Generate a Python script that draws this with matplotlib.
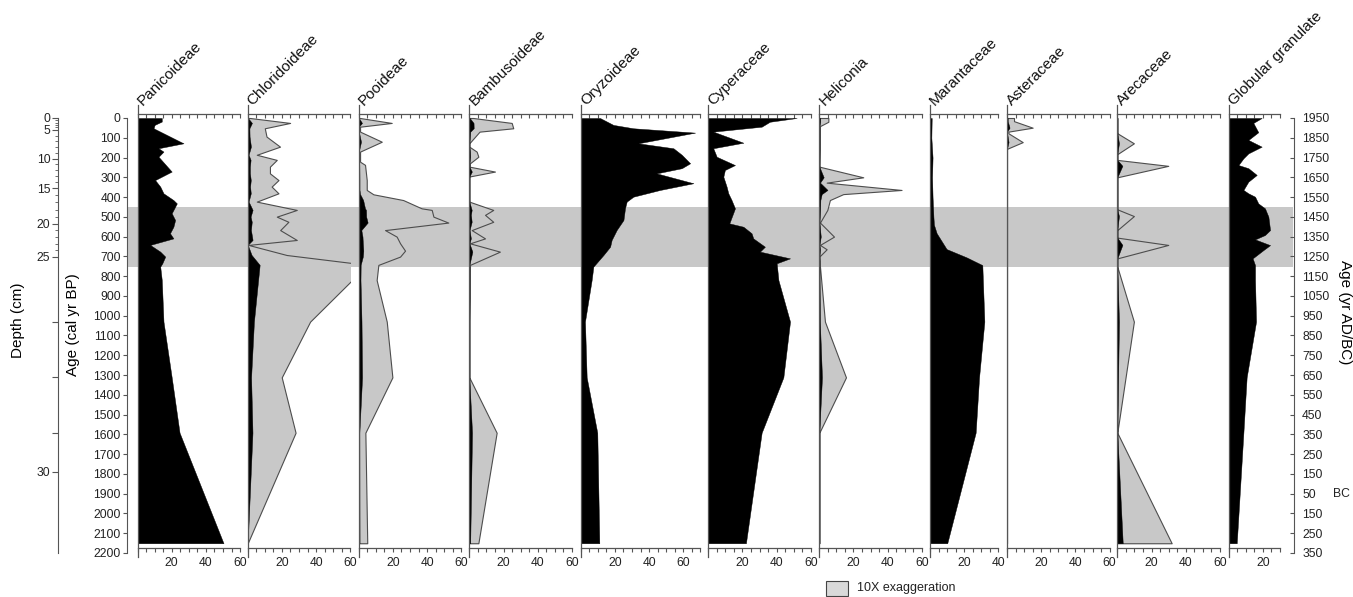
import numpy as np
import matplotlib
matplotlib.use("Agg")
import matplotlib.pyplot as plt
from matplotlib.patches import Rectangle
from matplotlib.lines import Line2D
from matplotlib.transforms import offset_copy

plt.rcParams['font.family'] = ['Liberation Sans', 'DejaVu Sans']

# ---------------- data ----------------
taxa = ["Panicoideae", "Chloridoideae", "Pooideae", "Bambusoideae", "Oryzoideae",
        "Cyperaceae", "Heliconia", "Marantaceae", "Asteraceae", "Arecaceae",
        "Globular granulate"]
x_max = [60, 60, 60, 60, 70, 60, 60, 40, 60, 60, 30]
exaggerated = ["Chloridoideae", "Pooideae", "Bambusoideae", "Heliconia", "Asteraceae", "Arecaceae"]

panic_age = [0, 18, 35, 52, 128, 153, 170, 196, 271, 314, 347, 381, 415, 432, 482, 516, 550, 583,
             609, 642, 676, 701, 735, 752, 820, 1030, 1312, 1592, 2151]
panic_pct = [14.2, 14.2, 10, 9.4, 26.9, 12.3, 15.2, 12.3, 20, 10.3, 13.3, 15.2, 21, 23, 20, 22, 21, 19,
             21, 7.4, 13.3, 16.2, 14.5, 13.3, 14.2, 15.2, 20, 24.6, 50.3]

chlor_age = [0, 25, 52, 94, 145, 186, 212, 246, 280, 314, 347, 381, 423, 465, 499, 525, 567, 617,
             642, 693, 743, 1030, 1312, 1592, 2151]
chlor_pct = [0.14, 2.48, 1.0, 1.1, 1.89, 0.53, 1.7, 1.3, 1.3, 1.8, 1.4, 1.8, 0.53, 2.87, 1.7, 2.38,
             1.9, 2.87, 0.04, 2.28, 7.0, 3.65, 1.99, 2.8, 0.0]

pooid_age = [0, 25, 44, 69, 120, 170, 221, 237, 314, 364, 386, 415, 457, 465, 499, 529, 567, 600,
             634, 671, 701, 743, 820, 1030, 1312, 1592, 2151]
pooid_pct = [0.08, 1.93, 0.08, 0.08, 1.35, 0.08, 0.08, 0.37, 0.47, 0.47, 0.86, 2.6, 3.68, 4.27, 4.37,
             5.24, 1.54, 2.22, 2.42, 2.71, 2.42, 1.15, 1.05, 1.64, 1.97, 0.39, 0.5]

bambu_age = [0, 25, 52, 69, 128, 145, 170, 196, 229, 246, 271, 296, 423, 465, 490, 525, 567, 609,
             634, 676, 743, 1030, 1312, 1592, 2151]
bambu_pct = [0.23, 2.48, 2.57, 0.6, 0, 0, 0.43, 0.53, 0.04, 0, 1.5, 0, 0, 1.4, 0.92, 1.4, 0.14, 0.92,
             0.04, 1.79, 0.04, 0, 0, 1.6, 0.53]

oryz_age = [0, 35, 52, 74, 128, 153, 186, 229, 254, 280, 330, 364, 398, 423, 457, 516, 567, 617,
            651, 693, 752, 820, 1030, 1312, 1592, 2151]
oryz_pct = [11.3, 19.1, 30.8, 66.9, 33.7, 54.2, 59.1, 64, 59.1, 44.4, 65.9, 46.4, 30.8, 26.9, 25.9,
            25, 21, 18.1, 17.2, 13.3, 7.4, 6.4, 2.5, 3.5, 9.7, 10.9]

cyper_age = [0, 19, 44, 69, 125, 153, 196, 238, 263, 297, 347, 381, 415, 457, 533, 550, 583, 609,
             651, 676, 710, 735, 820, 1030, 1312, 1592, 2151]
cyper_pct = [51.7, 36, 31.2, 2.9, 20.5, 2.9, 4.9, 15.6, 9.7, 8.8, 10.7, 11.7, 13.6, 15.6, 12.3, 20.5,
             25.3, 26.3, 33.1, 30.2, 47.8, 40, 41, 47.8, 43.9, 31.2, 22]

helic_age = [0, 19, 41, 246, 300, 327, 364, 385, 415, 465, 529, 600, 642, 664, 701, 752, 1030, 1312,
             1592, 2151]
helic_pct = [0.53, 0.53, 0.04, 0, 2.57, 0.43, 4.81, 1.4, 0.62, 0.47, 0.04, 0.86, 0.04, 0.43, 0, 0.04,
             0.33, 1.56, 0, 0]

maran_age = [0, 100, 200, 300, 400, 500, 540, 583, 663, 705, 744, 1030, 1312, 1592, 2151]
maran_pct = [1.0, 0.8, 1.5, 1.2, 1.5, 2.0, 2.3, 3.9, 9.7, 21.4, 30.6, 31.8, 28.7, 26.7, 10.1]

aster_age = [0, 16, 49, 69, 77, 122, 156, 2151]
aster_pct = [0.41, 0.41, 1.5, 0.08, 0.08, 0.92, 0, 0]

areca_age = [0, 77, 128, 183, 212, 242, 300, 462, 496, 567, 605, 642, 710, 752, 1030, 1592, 2151]
areca_pct = [0, 0, 0.97, 0, 0, 2.98, 0, 0, 0.97, 0, 0, 2.98, 0, 0, 0.97, 0, 3.18]

globu_age = [0, 25, 72, 111, 145, 179, 204, 238, 254, 288, 322, 364, 381, 398, 432, 457, 499, 567,
             592, 614, 643, 668, 710, 744, 820, 1030, 1312, 1592, 2151]
globu_pct = [19.3, 14.4, 17.3, 11.5, 19.3, 11.5, 8.6, 5.7, 11.5, 16.4, 11.5, 8.6, 11.5, 15.4, 17.3,
             21.2, 23.2, 24.2, 21.2, 15.4, 24.2, 20.3, 14, 15.4, 15.4, 16, 10.5, 8.6, 4.7]

series = {
    "Panicoideae": (panic_age, panic_pct), "Chloridoideae": (chlor_age, chlor_pct),
    "Pooideae": (pooid_age, pooid_pct), "Bambusoideae": (bambu_age, bambu_pct),
    "Oryzoideae": (oryz_age, oryz_pct), "Cyperaceae": (cyper_age, cyper_pct),
    "Heliconia": (helic_age, helic_pct), "Marantaceae": (maran_age, maran_pct),
    "Asteraceae": (aster_age, aster_pct), "Arecaceae": (areca_age, areca_pct),
    "Globular granulate": (globu_age, globu_pct),
}

band_ages = [450, 752]          # shaded zone (cal yr BP)
age_ticks = list(range(0, 2201, 100))
ad_labels = ["1950", "1850", "1750", "1650", "1550", "1450", "1350", "1250", "1150", "1050",
             "950", "850", "750", "650", "550", "450", "350", "250", "150", "50", "150", "250", "350"]
depth_major = [0, 5, 10, 15, 20, 25, 30]
depth_major_age = [0, 60, 205, 355, 535, 703, 1790]
depth_extra_age = [1030, 1312, 1592]      # unlabeled ticks (26-28 cm)

# ---------------- layout ----------------
W, H = 1353, 597
Y0 = 118.0          # pixel row of age 0
PPY = 0.1977        # pixels per year
PPP = 1.71          # pixels per percent
panel_left = [137.5, 247.7, 358.7, 469.3, 580.7, 708.3, 819.3, 930.0, 1007.0, 1117.3, 1228.7]
AX_TOP_PX, AX_BOT_PX = 114.0, 547.7
EXAG = 10
GREY = "#c8c8c8"
LINE = "#555555"
FS_TICK = 8.7


def ypx(age):
    return Y0 + age * PPY


def age_of(px):
    return (px - Y0) / PPY


fig = plt.figure(figsize=(W / 100, H / 100), dpi=100)

# shaded band behind everything
bx0, bx1 = 127.0, 1292.5
fig.add_artist(Rectangle((bx0 / W, 1 - ypx(band_ages[1]) / H), (bx1 - bx0) / W,
                         (ypx(band_ages[1]) - ypx(band_ages[0])) / H,
                         transform=fig.transFigure, facecolor=GREY, edgecolor="none", zorder=-5))

a_top, a_bot = age_of(AX_TOP_PX), age_of(AX_BOT_PX)
for name, left, xm in zip(taxa, panel_left, x_max):
    wpx = xm * PPP
    ax = fig.add_axes([left / W, 1 - AX_BOT_PX / H, wpx / W, (AX_BOT_PX - AX_TOP_PX) / H])
    ax.set_facecolor("none")
    ax.set_xlim(0, xm)
    ax.set_ylim(a_bot, a_top)
    ages, pct = series[name]
    ages = np.asarray(ages, float)
    pct = np.asarray(pct, float)
    if name in exaggerated:
        ax.fill_betweenx(ages, 0, pct * EXAG, facecolor=GREY, edgecolor="#4d4d4d",
                         linewidth=0.8, zorder=2)
    ax.fill_betweenx(ages, 0, pct, facecolor="black", edgecolor="black", linewidth=0.3, zorder=3)
    for s in ["left", "right", "top"]:
        ax.spines[s].set_visible(False)
    ax.spines["bottom"].set_color(LINE)
    ax.spines["bottom"].set_linewidth(0.9)
    ticks = list(range(0, xm + 1, 5))
    ax.set_xticks(ticks)
    ax.set_xticklabels([str(t) if t in (20, 40, 60) else "" for t in ticks])
    ax.tick_params(axis="x", direction="out", length=3, width=0.8, color=LINE,
                   labelsize=FS_TICK, labelcolor="#222222", pad=4)
    ax.set_yticks([])
    sec = ax.secondary_xaxis("top")
    sec.set_xticks(ticks)
    sec.set_xticklabels([])
    sec.tick_params(direction="in", length=3, width=0.8, color=LINE)
    sec.spines["top"].set_color(LINE)
    sec.spines["top"].set_linewidth(0.9)
    # extended left line
    ax.add_line(Line2D([0, 0], [age_of(105), age_of(557)], color=LINE, lw=0.9,
                       clip_on=False, zorder=5))
    tr = offset_copy(ax.transData, fig=fig, x=5, y=0, units="dots")
    ax.text(0, age_of(106), name, rotation=45, rotation_mode="anchor", ha="left",
            va="baseline", fontsize=11, color="#111111", clip_on=False, transform=tr)

# left age axis
axL = fig.add_axes([127.0 / W, 1 - ypx(2200) / H, 0.001, (ypx(2200) - ypx(0)) / H])
axL.set_facecolor("none")
axL.set_ylim(2200, 0)
for s in ["right", "top", "bottom"]:
    axL.spines[s].set_visible(False)
axL.spines["left"].set_color(LINE)
axL.set_xticks([])
axL.set_yticks(age_ticks)
axL.set_yticklabels([str(t) for t in age_ticks])
axL.tick_params(axis="y", length=3, width=0.8, color=LINE, labelsize=FS_TICK, labelcolor="#222222", pad=1.5)
fig.text(73 / W, 1 - 325 / H, "Age (cal yr BP)", rotation=90, ha="center", va="center", fontsize=11)

# depth axis
axD = fig.add_axes([58.0 / W, 1 - ypx(2200) / H, 0.001, (ypx(2200) - ypx(0)) / H])
axD.set_facecolor("none")
axD.set_ylim(2200, 0)
for s in ["right", "top", "bottom"]:
    axD.spines[s].set_visible(False)
axD.spines["left"].set_color(LINE)
axD.set_xticks([])
axD.set_yticks(depth_major_age + depth_extra_age)
axD.set_yticklabels([str(d) for d in depth_major] + [""] * len(depth_extra_age))
minor = np.interp(np.arange(1, 25), depth_major[:6], depth_major_age[:6])
axD.set_yticks(minor, minor=True)
axD.tick_params(axis="y", which="major", length=4, width=0.8, color=LINE, labelsize=FS_TICK,
                labelcolor="#222222", pad=1.5)
axD.tick_params(axis="y", which="minor", length=2.5, width=0.6, color=LINE)
fig.text(18 / W, 1 - 320 / H, "Depth (cm)", rotation=90, ha="center", va="center", fontsize=11)

# right AD/BC axis
axR = fig.add_axes([1292.5 / W, 1 - ypx(2200) / H, 0.001, (ypx(2200) - ypx(0)) / H])
axR.set_facecolor("none")
axR.set_ylim(2200, 0)
for s in ["left", "top", "bottom"]:
    axR.spines[s].set_visible(False)
axR.spines["right"].set_color(LINE)
axR.set_xticks([])
axR.yaxis.tick_right()
axR.set_yticks(age_ticks[:len(ad_labels)])
axR.set_yticklabels(ad_labels)
axR.tick_params(axis="y", direction="in", length=3, width=0.8, color=LINE, labelsize=FS_TICK,
                labelcolor="#222222", pad=6)
fig.text(1333 / W, 1 - ypx(1900) / H, "BC", ha="left", va="center", fontsize=FS_TICK, color="#222222")
fig.text(1345 / W, 1 - 312 / H, "Age (yr AD/BC)", rotation=270, ha="center", va="center", fontsize=11)

# legend
fig.add_artist(Rectangle((826 / W, 1 - 596 / H), 22 / W, 15 / H, transform=fig.transFigure,
                         facecolor="#d9d9d9", edgecolor="#444444", lw=0.8))
fig.text(857 / W, 1 - 588.5 / H, "10X exaggeration", ha="left", va="center", fontsize=9, color="#222222")

fig.savefig("out.png", dpi=100)
